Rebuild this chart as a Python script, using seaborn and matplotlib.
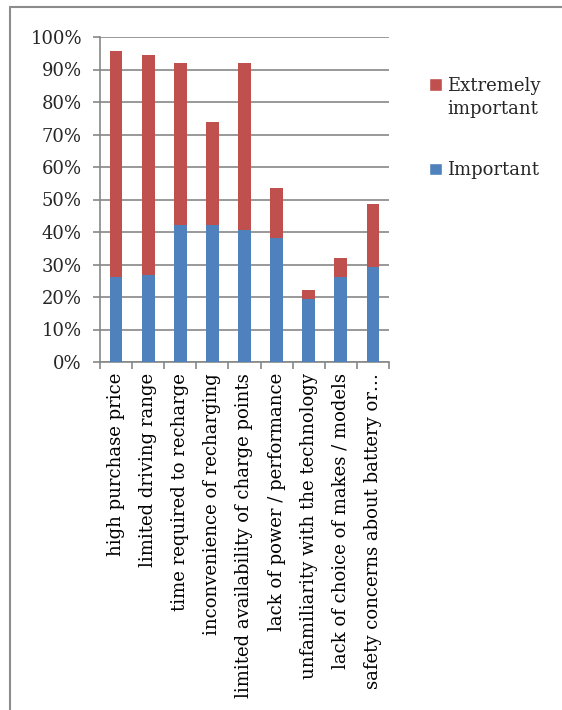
import matplotlib
matplotlib.use("Agg")
import matplotlib.pyplot as plt
from matplotlib.lines import Line2D
from matplotlib.patches import Patch, Rectangle
from matplotlib.legend_handler import HandlerPatch
from matplotlib.ticker import PercentFormatter, FixedLocator
import seaborn as sns
import pandas as pd

sns.set_theme(style="white")
plt.rcParams['font.family'] = ['DejaVu Serif']

# Data
categories = [
    "high purchase price",
    "limited driving range",
    "time required to recharge",
    "inconvenience of recharging",
    "limited availability of charge points",
    "lack of power / performance",
    "unfamiliarity with the technology",
    "lack of choice of makes / models",
    "safety concerns about battery or\u2026",
]
important = [26.2, 26.8, 42.2, 42.2, 40.5, 38.3, 19.3, 26.2, 29.1]
extremely = [69.4, 67.6, 49.9, 31.5, 51.6, 15.3, 2.9, 5.8, 19.5]
y_ticks = [0, 10, 20, 30, 40, 50, 60, 70, 80, 90, 100]

BLUE = "#4F81BD"
RED = "#C0504D"
GRID = "#878787"
FS = 13

df = pd.DataFrame({"category": categories, "important": important, "extremely": extremely})
df["total"] = df["important"] + df["extremely"]

fig = plt.figure(figsize=(5.62, 7.10), dpi=100)
ax = fig.add_axes([100 / 562, 1 - 362 / 710, 289 / 562, 325 / 710])

# stacked bars: total (red) behind, important (blue) in front
sns.barplot(data=df, x="category", y="total", color=RED, width=0.4,
            saturation=1, linewidth=0, ax=ax, zorder=3)
sns.barplot(data=df, x="category", y="important", color=BLUE, width=0.4,
            saturation=1, linewidth=0, ax=ax, zorder=4)

ax.set_ylim(0, 100)
ax.set_xlim(-0.5, len(categories) - 0.5)
ax.set_yticks(y_ticks)
ax.yaxis.set_major_formatter(PercentFormatter(decimals=0))
ax.grid(axis="y", color=GRID, linewidth=1.2, zorder=0)
ax.set_axisbelow(True)
ax.set_xlabel("")
ax.set_ylabel("")

for side in ["top", "right"]:
    ax.spines[side].set_visible(False)
for side in ["left", "bottom"]:
    ax.spines[side].set_color(GRID)
    ax.spines[side].set_linewidth(1.2)

ax.set_xticks(range(len(categories)))
ax.set_xticklabels(categories, rotation=90, ha="center", va="top")
ax.xaxis.set_minor_locator(FixedLocator([i - 0.5 for i in range(len(categories) + 1)]))
ax.tick_params(axis="x", which="major", length=0, pad=8, labelsize=FS, colors="black")
ax.tick_params(axis="x", which="minor", length=5, width=1.2, color=GRID, direction="out", bottom=True)
ax.tick_params(axis="y", which="major", length=5, width=1.2, color=GRID, direction="out",
               left=True, labelsize=FS, pad=8)


def top_line_patch(legend, orig_handle, xdescent, ydescent, width, height, fontsize):
    # put the marker beside the first line of a two-line label
    return Rectangle((-xdescent, -ydescent + fontsize * 0.75), width, height)


handles = [Patch(facecolor=RED, label="Extremely\nimportant"),
           Patch(facecolor=BLUE, label="Important")]
leg = fig.legend(handles=handles, loc="upper left", bbox_to_anchor=(429 / 562, 1 - 77 / 710),
                 frameon=False, fontsize=FS, handlelength=0.7, handleheight=0.7,
                 handletextpad=0.3, labelspacing=2.4, borderaxespad=0, borderpad=0,
                 handler_map={handles[0]: HandlerPatch(patch_func=top_line_patch)})
for t in leg.get_texts():
    t.set_linespacing(1.35)

# chart border (top and left edges visible)
fig.add_artist(Line2D([10 / 562, 1], [1 - 7 / 710, 1 - 7 / 710], color="#8c8c8c", linewidth=1.5))
fig.add_artist(Line2D([10 / 562, 10 / 562], [0, 1 - 7 / 710], color="#8c8c8c", linewidth=1.5))

fig.savefig("out.png", dpi=100)
